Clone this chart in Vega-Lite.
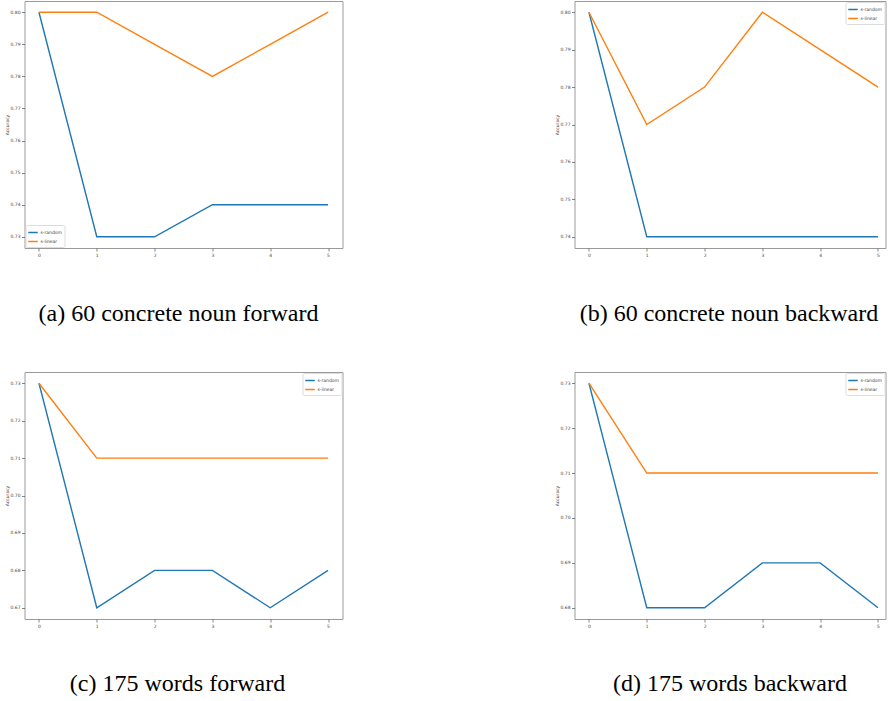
{
  "$schema": "https://vega.github.io/schema/vega-lite/v6.json",
  "padding": {"left": 3.5, "top": 0, "right": 0, "bottom": 0},
  "background": "white",
  "config": {
    "view": {"stroke": "#9a9a9a", "strokeWidth": 1},
    "axis": {"domain": false, "grid": false, "tickColor": "#666", "tickSize": 3, "tickWidth": 0.8, "labelFont": "DejaVu Sans", "labelFontSize": 4.5, "labelColor": "#444", "labelPadding": 1.5, "titleFont": "DejaVu Sans", "titleFontSize": 4.5, "titleFontWeight": "normal", "titleColor": "#444", "titlePadding": 0.5},
    "legend": {"symbolType": "stroke", "symbolStrokeWidth": 1.5, "symbolSize": 90, "labelFont": "DejaVu Sans", "labelFontSize": 4.5, "labelColor": "#444", "labelOffset": 2, "padding": 2, "rowPadding": 0, "fillColor": "white", "strokeColor": "#ddd", "cornerRadius": 1.5, "offset": 1, "title": null}
  },
  "data": {"values": [
    {"p":"a","s":0,"m":"s-random","v":0.80},{"p":"a","s":1,"m":"s-random","v":0.73},{"p":"a","s":2,"m":"s-random","v":0.73},{"p":"a","s":3,"m":"s-random","v":0.74},{"p":"a","s":4,"m":"s-random","v":0.74},{"p":"a","s":5,"m":"s-random","v":0.74},
    {"p":"a","s":0,"m":"s-linear","v":0.80},{"p":"a","s":1,"m":"s-linear","v":0.80},{"p":"a","s":2,"m":"s-linear","v":0.79},{"p":"a","s":3,"m":"s-linear","v":0.78},{"p":"a","s":4,"m":"s-linear","v":0.79},{"p":"a","s":5,"m":"s-linear","v":0.80},
    {"p":"b","s":0,"m":"s-random","v":0.80},{"p":"b","s":1,"m":"s-random","v":0.74},{"p":"b","s":2,"m":"s-random","v":0.74},{"p":"b","s":3,"m":"s-random","v":0.74},{"p":"b","s":4,"m":"s-random","v":0.74},{"p":"b","s":5,"m":"s-random","v":0.74},
    {"p":"b","s":0,"m":"s-linear","v":0.80},{"p":"b","s":1,"m":"s-linear","v":0.77},{"p":"b","s":2,"m":"s-linear","v":0.78},{"p":"b","s":3,"m":"s-linear","v":0.80},{"p":"b","s":4,"m":"s-linear","v":0.79},{"p":"b","s":5,"m":"s-linear","v":0.78},
    {"p":"c","s":0,"m":"s-random","v":0.73},{"p":"c","s":1,"m":"s-random","v":0.67},{"p":"c","s":2,"m":"s-random","v":0.68},{"p":"c","s":3,"m":"s-random","v":0.68},{"p":"c","s":4,"m":"s-random","v":0.67},{"p":"c","s":5,"m":"s-random","v":0.68},
    {"p":"c","s":0,"m":"s-linear","v":0.73},{"p":"c","s":1,"m":"s-linear","v":0.71},{"p":"c","s":2,"m":"s-linear","v":0.71},{"p":"c","s":3,"m":"s-linear","v":0.71},{"p":"c","s":4,"m":"s-linear","v":0.71},{"p":"c","s":5,"m":"s-linear","v":0.71},
    {"p":"d","s":0,"m":"s-random","v":0.73},{"p":"d","s":1,"m":"s-random","v":0.68},{"p":"d","s":2,"m":"s-random","v":0.68},{"p":"d","s":3,"m":"s-random","v":0.69},{"p":"d","s":4,"m":"s-random","v":0.69},{"p":"d","s":5,"m":"s-random","v":0.68},
    {"p":"d","s":0,"m":"s-linear","v":0.73},{"p":"d","s":1,"m":"s-linear","v":0.71},{"p":"d","s":2,"m":"s-linear","v":0.71},{"p":"d","s":3,"m":"s-linear","v":0.71},{"p":"d","s":4,"m":"s-linear","v":0.71},{"p":"d","s":5,"m":"s-linear","v":0.71}
  ]},
  "resolve": {"scale": {"color": "independent"}, "legend": {"color": "independent"}},
  "spacing": 44,
  "vconcat": [
    {
      "spacing": 210,
      "resolve": {"scale": {"color": "independent"}, "legend": {"color": "independent"}},
      "hconcat": [
        {
          "width": 318, "height": 247,
          "title": {"text": "(a) 60 concrete noun forward", "orient": "bottom", "anchor": "middle", "frame": "bounds", "font": "Liberation Serif", "fontSize": 24, "fontWeight": "normal", "color": "#000", "offset": 45, "dx": 5},
          "transform": [{"filter": "datum.p == 'a'"}],
          "mark": {"type": "line", "strokeWidth": 1.4},
          "encoding": {
            "x": {"field": "s", "type": "quantitative", "scale": {"domain": [-0.25, 5.25], "nice": false, "zero": false}, "axis": {"values": [0,1,2,3,4,5], "format": "d", "title": null}},
            "y": {"field": "v", "type": "quantitative", "scale": {"domain": [0.7265, 0.8035], "nice": false, "zero": false}, "axis": {"values": [0.73,0.74,0.75,0.76,0.77,0.78,0.79,0.80], "format": ".2f", "title": "Accuracy"}},
            "color": {"field": "m", "type": "nominal", "sort": ["s-random","s-linear"], "scale": {"domain": ["s-random","s-linear"], "range": ["#1f77b4","#ff7f0e"]}, "legend": {"orient": "bottom-left"}}
          }
        },
        {
          "width": 311, "height": 247,
          "title": {"text": "(b) 60 concrete noun backward", "orient": "bottom", "anchor": "middle", "frame": "bounds", "font": "Liberation Serif", "fontSize": 24, "fontWeight": "normal", "color": "#000", "offset": 45, "dx": 9},
          "transform": [{"filter": "datum.p == 'b'"}],
          "mark": {"type": "line", "strokeWidth": 1.4},
          "encoding": {
            "x": {"field": "s", "type": "quantitative", "scale": {"domain": [-0.25, 5.13], "nice": false, "zero": false}, "axis": {"values": [0,1,2,3,4,5], "format": "d", "title": null}},
            "y": {"field": "v", "type": "quantitative", "scale": {"domain": [0.737, 0.803], "nice": false, "zero": false}, "axis": {"values": [0.74,0.75,0.76,0.77,0.78,0.79,0.80], "format": ".2f", "title": "Accuracy"}},
            "color": {"field": "m", "type": "nominal", "sort": ["s-random","s-linear"], "scale": {"domain": ["s-random","s-linear"], "range": ["#1f77b4","#ff7f0e"]}, "legend": {"orient": "top-right"}}
          }
        }
      ]
    },
    {
      "spacing": 210,
      "resolve": {"scale": {"color": "independent"}, "legend": {"color": "independent"}},
      "hconcat": [
        {
          "width": 318, "height": 247,
          "title": {"text": "(c) 175 words forward", "orient": "bottom", "anchor": "middle", "frame": "bounds", "font": "Liberation Serif", "fontSize": 24, "fontWeight": "normal", "color": "#000", "offset": 44, "dx": 4},
          "transform": [{"filter": "datum.p == 'c'"}],
          "mark": {"type": "line", "strokeWidth": 1.4},
          "encoding": {
            "x": {"field": "s", "type": "quantitative", "scale": {"domain": [-0.25, 5.25], "nice": false, "zero": false}, "axis": {"values": [0,1,2,3,4,5], "format": "d", "title": null}},
            "y": {"field": "v", "type": "quantitative", "scale": {"domain": [0.667, 0.733], "nice": false, "zero": false}, "axis": {"values": [0.67,0.68,0.69,0.70,0.71,0.72,0.73], "format": ".2f", "title": "Accuracy"}},
            "color": {"field": "m", "type": "nominal", "sort": ["s-random","s-linear"], "scale": {"domain": ["s-random","s-linear"], "range": ["#1f77b4","#ff7f0e"]}, "legend": {"orient": "top-right"}}
          }
        },
        {
          "width": 311, "height": 247,
          "title": {"text": "(d) 175 words backward", "orient": "bottom", "anchor": "middle", "frame": "bounds", "font": "Liberation Serif", "fontSize": 24, "fontWeight": "normal", "color": "#000", "offset": 44, "dx": 10},
          "transform": [{"filter": "datum.p == 'd'"}],
          "mark": {"type": "line", "strokeWidth": 1.4},
          "encoding": {
            "x": {"field": "s", "type": "quantitative", "scale": {"domain": [-0.25, 5.13], "nice": false, "zero": false}, "axis": {"values": [0,1,2,3,4,5], "format": "d", "title": null}},
            "y": {"field": "v", "type": "quantitative", "scale": {"domain": [0.6775, 0.7325], "nice": false, "zero": false}, "axis": {"values": [0.68,0.69,0.70,0.71,0.72,0.73], "format": ".2f", "title": "Accuracy"}},
            "color": {"field": "m", "type": "nominal", "sort": ["s-random","s-linear"], "scale": {"domain": ["s-random","s-linear"], "range": ["#1f77b4","#ff7f0e"]}, "legend": {"orient": "top-right"}}
          }
        }
      ]
    }
  ]
}
